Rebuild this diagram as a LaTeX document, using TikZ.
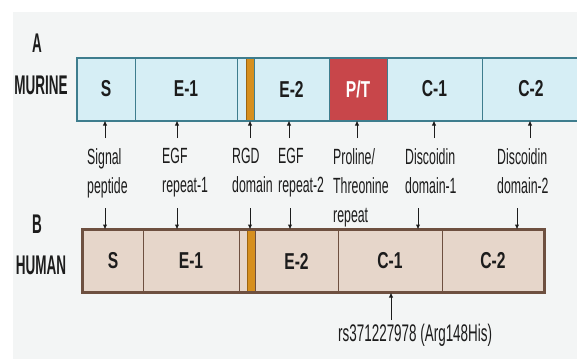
\documentclass[tikz,border=0pt]{standalone}
\usepackage{fontspec}
\setmainfont{Liberation Sans}
\newfontfamily\hdf[FakeStretch=0.5]{Liberation Sans}
\newfontfamily\domf[FakeStretch=0.68]{Liberation Sans}
\newfontfamily\labf[FakeStretch=0.56]{Liberation Sans}
\usetikzlibrary{arrows.meta}
\definecolor{bggray}{HTML}{F3F5F5}
\definecolor{mfill}{HTML}{D6EEF5}
\definecolor{mline}{HTML}{3E7D8E}
\definecolor{ptred}{HTML}{C8464A}
\definecolor{rgdor}{HTML}{D68F1E}
\definecolor{rgdline}{HTML}{9C6410}
\definecolor{hfill}{HTML}{E6D6CA}
\definecolor{hline}{HTML}{6E5040}
\definecolor{ink}{HTML}{1C1C1C}
\begin{document}
\begin{tikzpicture}[x=1pt,y=-1pt,
  seg/.style={rectangle, inner sep=0, minimum height=62pt, line width=1pt,
    text=ink, font=\domf\bfseries\fontsize{23}{23}\selectfont},
  mseg/.style={seg, fill=mfill, draw=mline},
  hseg/.style={seg, fill=hfill, draw=hline},
  rgdm/.style={seg, fill=rgdor, draw=rgdline},
  hd/.style={inner sep=0, text=ink, font=\hdf\bfseries\fontsize{27}{27}\selectfont},
  lab/.style={inner sep=0, anchor=north west, align=left, text=ink,
    font=\labf\fontsize{22}{29}\selectfont},
  arr/.style={draw=ink, line width=1pt, -{Latex[length=5pt,width=4.5pt]}}]
\useasboundingbox (0,0) rectangle (577,359);
\fill[white] (0,0) rectangle (577,359);
\fill[bggray] (13,12) rectangle (577,359);

% headers
\node[hd] (A) at (37,43) {A};
\node[hd] (MUR) at (41,85) {MURINE};
\node[hd] (B) at (37,224) {B};
\node[hd] (HUM) at (41,265) {HUMAN};

% murine bar
\node[mseg, minimum width=58pt] (mS) at (106,89) {S};
\node[mseg, minimum width=102pt] (mE1) at (186,89) {E-1};
\node[mseg, minimum width=9pt] (mG) at (241.5,89) {};
\node[rgdm, minimum width=8pt] (mR) at (250,89) {};
\node[mseg, minimum width=75pt] (mE2) at (291.5,89) {E-2};
\node[seg, fill=ptred, draw=mline, text=white, minimum width=58pt] (mPT) at (358,89) {P/T};
\node[mseg, minimum width=95pt] (mC1) at (434.5,89) {C-1};
\node[mseg, minimum width=98pt] (mC2) at (531,89) {C-2};
\draw[mline, line width=2pt] (mS.north west) rectangle (mC2.south east);

% human bar
\node[hseg, minimum width=60pt] (hS) at (113,261) {S};
\node[hseg, minimum width=96pt] (hE1) at (191,261) {E-1};
\node[hseg, minimum width=8pt] (hG) at (243,261) {};
\node[rgdm, minimum width=8pt] (hR) at (251,261) {};
\node[hseg, minimum width=83pt] (hE2) at (296.5,261) {E-2};
\node[hseg, minimum width=104pt] (hC1) at (390,261) {C-1};
\node[hseg, minimum width=102pt] (hC2) at (493,261) {C-2};
\draw[hline, line width=2.2pt] (hS.north west) rectangle (hC2.south east);

% labels
\node[lab] (l1) at (87,148) {Signal\\peptide};
\node[lab] (l2) at (162,148) {EGF\\repeat-1};
\node[lab] (l3) at (232,148) {RGD\\domain};
\node[lab] (l4) at (278,148) {EGF\\repeat-2};
\node[lab] (l5) at (333,148) {Proline/\\Threonine\\repeat};
\node[lab] (l6) at (405,148) {Discoidin\\domain-1};
\node[lab] (l7) at (497,148) {Discoidin\\domain-2};
\node[lab, font=\labf\fontsize{24}{29}\selectfont] (rs) at (338,324) {rs371227978 (Arg148His)};

% upper arrows (pointing up to murine bar)
\coordinate (u1) at (105,138);
\coordinate (u2) at (177,138);
\coordinate (u3) at (250,138);
\coordinate (u4) at (289,138);
\coordinate (u5) at (357,138);
\coordinate (u6) at (434,138);
\coordinate (u7) at (530,138);
\foreach \u in {u1,u2,u3,u4,u5,u6,u7}
  \draw[arr] (\u) -- (\u |- mS.south);

% lower arrows (pointing down to human bar)
\coordinate (d1) at (105,208);
\coordinate (d2) at (177,208);
\coordinate (d3) at (250,208);
\coordinate (d4) at (290,208);
\coordinate (d6) at (418,208);
\coordinate (d7) at (517,208);
\foreach \d in {d1,d2,d3,d4,d6,d7}
  \draw[arr] (\d) -- (\d |- hS.north);

% SNP arrow
\coordinate (r1) at (391,320);
\draw[arr] (r1) -- (r1 |- hC1.south);
\end{tikzpicture}
\end{document}
